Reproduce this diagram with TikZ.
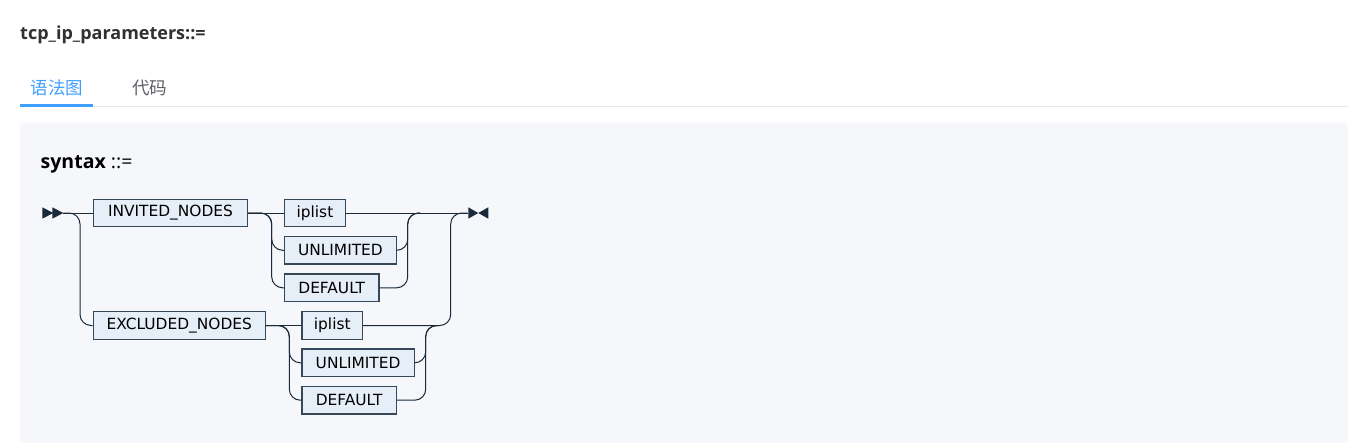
\documentclass[tikz,border=0pt]{standalone}
\usepackage{fontspec}
\setmainfont{Open Sans}
\newfontfamily\railfont{DejaVu Sans}
\newfontfamily\cjkfont{Noto Sans CJK SC}
\definecolor{railline}{HTML}{1B2A3A}
\definecolor{boxdraw}{HTML}{36475A}
\definecolor{boxfill}{HTML}{E6EEF8}
\definecolor{panelbg}{HTML}{F5F7FA}
\definecolor{tabblue}{HTML}{409EFF}
\definecolor{tabgray}{HTML}{5E6168}
\definecolor{rulegray}{HTML}{E4E7ED}
\definecolor{titlegray}{HTML}{303133}

\begin{document}
\begin{tikzpicture}[x=1pt,y=-1pt,
  term/.style={draw=boxdraw, fill=boxfill, line width=1.2pt, rectangle, anchor=west,
    minimum height=27.5pt, inner sep=0pt, text=black,
    font=\railfont\fontsize{15.4}{18}\selectfont},
  rail/.style={draw=railline, line width=1pt, rounded corners=11pt},
  tip/.style={fill=railline}]
\useasboundingbox (0,0) rectangle (1348,442);
\clip (0,0) rectangle (1348,442);
\fill [white] (0,0) rectangle (1348,442);

\node [anchor=base west, inner sep=0pt, text=titlegray, font=\bfseries\fontsize{18}{21}\selectfont] (title) at (20,39.3) {tcp\_ip\_parameters::=};
\node [inner sep=0pt, text=tabblue, font=\cjkfont\fontsize{17.5}{20}\selectfont] (tab1) at (57,87.5) {语法图};
\node [inner sep=0pt, text=tabgray, font=\cjkfont\fontsize{17.5}{20}\selectfont] (tab2) at (149.7,87.5) {代码};
\draw [rulegray, line width=1.2pt] (20,106.3) -- (1348,106.3);
\fill [tabblue] (20,103.7) rectangle (92.7,106.7);

\fill [panelbg, rounded corners=4pt] (20,122.7) rectangle (1347.7,460);
\node [anchor=base west, inner sep=0pt, font=\fontsize{19.5}{23}\selectfont] (label) at (40.5,168.3) {\textbf{syntax} ::=};

\node [term, minimum width=154.3pt] (inv) at (92.7,213) {INVITED\_NODES};
\node [term, minimum width=172pt] (exc) at (92.7,325.5) {EXCLUDED\_NODES};
\node [term, minimum width=60.7pt] (ip1) at (284,213) {iplist};
\node [term, minimum width=111.7pt] (un1) at (284,250.3) {UNLIMITED};
\node [term, minimum width=94.3pt] (de1) at (284,287.8) {DEFAULT};
\node [term, minimum width=60.7pt] (ip2) at (301.3,325.5) {iplist};
\node [term, minimum width=112.4pt] (un2) at (301.3,362.8) {UNLIMITED};
\node [term, minimum width=94.4pt] (de2) at (301.3,400.2) {DEFAULT};

\coordinate (st) at (63.3,213);
\coordinate (b0) at (80,213);
\coordinate (b1) at (271.7,213);
\coordinate (j1) at (407.7,213);
\coordinate (k1) at (420,213);
\coordinate (b2) at (289.3,325.5);
\coordinate (j2) at (425.7,325.5);
\coordinate (k2) at (438,325.5);
\coordinate (j3) at (450.7,213);
\coordinate (en) at (467.7,213);

\fill [tip] (42.3,207.3) -- (53.3,213) -- (42.3,218.7) -- cycle;
\fill [tip] (52.3,207.3) -- (st) -- (52.3,218.7) -- cycle;
\fill [tip] (468.3,207.3) -- (478.3,213) -- (468.3,218.7) -- cycle;
\fill [tip] (488.3,207.3) -- (478.3,213) -- (488.3,218.7) -- cycle;

\draw [rail] (st) -- (inv.west);
\draw [rail] (st) -| (b0 |- exc.west) -- (exc.west);
\draw [rail] (inv.east) -- (ip1.west);
\draw [rail] (inv.east) -| (b1 |- un1.west) -- (un1.west);
\draw [rail] (inv.east) -| (b1 |- de1.west) -- (de1.west);
\draw [rail] (ip1.east) -- (en);
\draw [rail] (un1.east) -| (j1) -- (k1);
\draw [rail] (de1.east) -| (j1) -- (k1);
\draw [rail] (exc.east) -- (ip2.west);
\draw [rail] (exc.east) -| (b2 |- un2.west) -- (un2.west);
\draw [rail] (exc.east) -| (b2 |- de2.west) -- (de2.west);
\draw [rail] (un2.east) -| (j2) -- (k2);
\draw [rail] (de2.east) -| (j2) -- (k2);
\draw [rail] (ip2.east) -| (j3) -- (en);
\end{tikzpicture}
\end{document}
